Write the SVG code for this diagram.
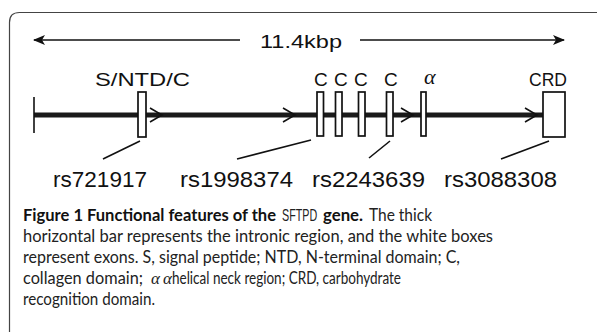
<svg xmlns="http://www.w3.org/2000/svg" width="597" height="332" viewBox="0 0 597 332">
<defs>
<style>
.frame{fill:none;stroke:#444;stroke-width:1.2}
.ln{stroke:#111;stroke-width:1.6;fill:none}
.bar{stroke:#1a1a1a;stroke-width:5;fill:none}
.chev{stroke:#111;stroke-width:1.6;fill:none}
.exon{fill:#fff;stroke:#111;stroke-width:1.7}
.lbl{font-family:"Liberation Sans",Arial,sans-serif;font-size:19px;fill:#111}
.rs{font-family:"Liberation Sans",Arial,sans-serif;font-size:22px;fill:#111}
.cap{font-family:Lato,"Open Sans",sans-serif;font-size:17px;fill:#222}
.capb{font-weight:bold;fill:#111}
.gr{font-family:"Liberation Serif",serif;font-style:italic}
.nar{font-family:"Liberation Sans",Arial,sans-serif;font-size:16px;fill:#222}
</style>
<marker id="ah" viewBox="0 0 12 10" refX="11" refY="5" markerWidth="12" markerHeight="10" markerUnits="userSpaceOnUse" orient="auto-start-reverse">
<path d="M0,0 L12,5 L0,10 L3,5 Z" fill="#111"/>
</marker>
</defs>
<rect width="597" height="332" fill="#fff"/>
<path class="frame" d="M9.5,332 V22.5 Q9.5,12.5 19.5,12.5 H597"/>

<g id="scale">
<line class="ln" x1="34" y1="40" x2="240" y2="40" marker-start="url(#ah)"/>
<line class="ln" x1="360" y1="40" x2="564" y2="40" marker-end="url(#ah)"/>
<text class="lbl" x="260" y="48" textLength="82" lengthAdjust="spacingAndGlyphs">11.4kbp</text>
</g>

<g id="connectors">
<line class="bar" x1="34" y1="115" x2="543" y2="115"/>
<line class="ln" x1="34" y1="97" x2="34" y2="133"/>
<polyline class="chev" points="150,108 162,115 150,122"/>
<polyline class="chev" points="283,108 295,115 283,122"/>
<polyline class="chev" points="401,108 413,115 401,122"/>
<polyline class="chev" points="525,108 537,115 525,122"/>
<line class="ln" x1="103" y1="159" x2="140" y2="141"/>
<line class="ln" x1="237" y1="159" x2="311" y2="140"/>
<line class="ln" x1="369" y1="158" x2="390" y2="141"/>
<line class="ln" x1="501" y1="159" x2="549" y2="141"/>
</g>

<g id="exon-sntdc">
<rect class="exon" x="138" y="92" width="8" height="45"/>
<text class="lbl" x="95" y="86" textLength="95" lengthAdjust="spacingAndGlyphs">S/NTD/C</text>
</g>
<g id="exon-c1">
<rect class="exon" x="317" y="92" width="6.5" height="44"/>
<text class="lbl" x="314" y="86">C</text>
</g>
<g id="exon-c2">
<rect class="exon" x="335.5" y="92" width="6.5" height="44"/>
<text class="lbl" x="334" y="86">C</text>
</g>
<g id="exon-c3">
<rect class="exon" x="358.5" y="92" width="6.5" height="44"/>
<text class="lbl" x="354" y="86">C</text>
</g>
<g id="exon-c4">
<rect class="exon" x="386.5" y="92" width="6.5" height="44"/>
<text class="lbl" x="384" y="86">C</text>
</g>
<g id="exon-alpha">
<rect class="exon" x="421" y="92" width="5" height="44"/>
<text class="lbl gr" x="424" y="84" style="font-size:22px">α</text>
</g>
<g id="exon-crd">
<rect class="exon" x="543" y="92" width="22" height="45"/>
<text class="lbl" x="529" y="86" textLength="38" lengthAdjust="spacingAndGlyphs">CRD</text>
</g>

<g id="snps">
<text class="rs" x="53" y="187" textLength="94" lengthAdjust="spacingAndGlyphs">rs721917</text>
<text class="rs" x="180" y="187" textLength="113" lengthAdjust="spacingAndGlyphs">rs1998374</text>
<text class="rs" x="312" y="187" textLength="113" lengthAdjust="spacingAndGlyphs">rs2243639</text>
<text class="rs" x="444" y="187" textLength="113" lengthAdjust="spacingAndGlyphs">rs3088308</text>
</g>

<g id="caption">
<text class="cap capb" x="23" y="221" textLength="253" lengthAdjust="spacingAndGlyphs">Figure 1 Functional features of the</text>
<text class="nar" transform="translate(282,221) scale(0.67,1)">SFTPD</text>
<text class="cap capb" x="323" y="221" textLength="40" lengthAdjust="spacingAndGlyphs">gene.</text>
<text class="cap" x="369" y="221" textLength="63" lengthAdjust="spacingAndGlyphs">The thick</text>
<text class="cap" x="23" y="242" textLength="470" lengthAdjust="spacingAndGlyphs">horizontal bar represents the intronic region, and the white boxes</text>
<text class="cap" x="23" y="263" textLength="437" lengthAdjust="spacingAndGlyphs">represent exons. S, signal peptide; NTD, N-terminal domain; C,</text>
<text class="cap" x="23" y="284" textLength="120" lengthAdjust="spacingAndGlyphs">collagen domain;</text>
<text class="cap gr" x="151" y="284">α</text>
<text class="cap gr" x="163" y="284">α</text>
<text class="cap" x="172" y="284" textLength="229" lengthAdjust="spacingAndGlyphs">helical neck region; CRD, carbohydrate</text>
<text class="cap" x="23" y="305" textLength="132" lengthAdjust="spacingAndGlyphs">recognition domain.</text>
</g>
</svg>
